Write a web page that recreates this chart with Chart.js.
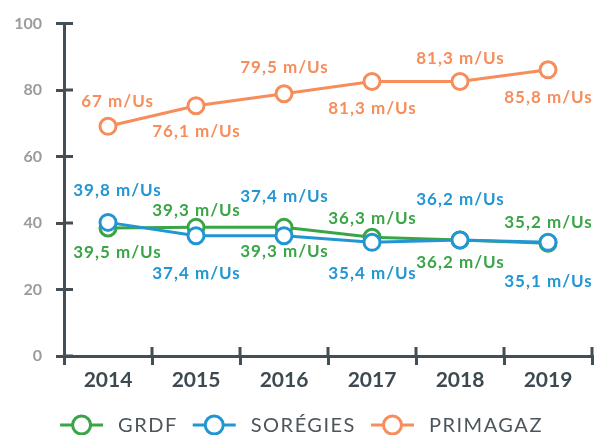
<!DOCTYPE html>
<html>
<head>
<meta charset="utf-8">
<style>
  html, body { margin: 0; padding: 0; background: #fff; }
  #wrap { width: 603px; height: 435px; }
</style>
</head>
<body>
<div id="wrap"><canvas id="chart"></canvas></div>
<script src="https://cdn.jsdelivr.net/npm/chart.js@4/dist/chart.umd.min.js"></script>
<script>
// data
var years = ['2014', '2015', '2016', '2017', '2018', '2019'];
var seriesNames = ['GRDF', 'SORÉGIES', 'PRIMAGAZ'];
var grdf = [38.5, 38.7, 38.7, 35.7, 34.9, 33.9];
var soregies = [40.2, 36.2, 36.2, 34.2, 34.9, 34.2];
var primagaz = [69.1, 75.3, 78.9, 82.6, 82.6, 86.1];
var grdfLabels = ['39,5 m/Us', '39,3 m/Us', '39,3 m/Us', '36,3 m/Us', '36,2 m/Us', '35,2 m/Us'];
var soregiesLabels = ['39,8 m/Us', '37,4 m/Us', '37,4 m/Us', '35,4 m/Us', '36,2 m/Us', '35,1 m/Us'];
var primagazLabels = ['67 m/Us', '76,1 m/Us', '79,5 m/Us', '81,3 m/Us', '81,3 m/Us', '85,8 m/Us'];
var yTicks = [0, 20, 40, 60, 80, 100];

// styling
var GREEN = '#3aa547', BLUE = '#2196d3', ORANGE = '#f68d5a', AXIS = '#434e55';
var FONT = 'Lato, "Open Sans", sans-serif';
// vertical offset of each value label from its point
var labelOffsets = [
  [24, -17, 24, -19, 23, -21],
  [-32, 38, -39, 31, -40, 39],
  [-25, 26, -26, 27, -23, 28]
];

function series(i, values, color, order, labels) {
  return {
    label: seriesNames[i],
    data: values,
    valueLabels: labels,
    borderColor: color,
    backgroundColor: '#fff',
    borderWidth: 3,
    pointRadius: 8,
    pointBorderWidth: 3,
    pointBackgroundColor: '#fff',
    pointBorderColor: color,
    tension: 0,
    order: order
  };
}

// inner halves of the tick marks, crossing the axes
var innerTicks = {
  id: 'innerTicks',
  beforeDatasetsDraw: function (chart) {
    var ctx = chart.ctx, a = chart.chartArea;
    var x = chart.scales.x, y = chart.scales.y;
    ctx.save();
    ctx.strokeStyle = AXIS;
    ctx.lineWidth = 3;
    ctx.beginPath();
    y.ticks.forEach(function (t) {
      var py = y.getPixelForValue(t.value);
      ctx.moveTo(a.left, py); ctx.lineTo(a.left + 9, py);
    });
    for (var i = 1; i <= years.length; i++) {
      var px = x.getPixelForValue(i - 0.5);
      ctx.moveTo(px, a.bottom); ctx.lineTo(px, a.bottom - 9);
    }
    ctx.stroke();
    ctx.restore();
  }
};

var valueLabels = {
  id: 'valueLabels',
  afterDatasetsDraw: function (chart) {
    var ctx = chart.ctx;
    ctx.save();
    ctx.font = 'bold 17px ' + FONT;
    ctx.letterSpacing = '1px';
    ctx.textAlign = 'center';
    ctx.textBaseline = 'middle';
    chart.data.datasets.forEach(function (ds, di) {
      var meta = chart.getDatasetMeta(di);
      ctx.fillStyle = ds.borderColor;
      meta.data.forEach(function (pt, i) {
        var dx = i === 0 ? 9 : 0;
        ctx.fillText(ds.valueLabels[i], pt.x + dx + 0.5, pt.y + labelOffsets[di][i]);
      });
    });
    ctx.restore();
  }
};

var lineLegend = {
  id: 'lineLegend',
  afterDraw: function (chart) {
    var ctx = chart.ctx;
    var ds = chart.data.datasets;
    var y = 425, markW = 43, gapText = 15, gapItem = 15;
    ctx.save();
    ctx.font = '20px ' + FONT;
    ctx.letterSpacing = '1.5px';
    var widths = ds.map(function (d) { return markW + gapText + ctx.measureText(d.label).width; });
    var total = widths.reduce(function (s, w) { return s + w; }, 0) + gapItem * (ds.length - 1);
    var x = (chart.width - total) / 2;
    ds.forEach(function (d, i) {
      ctx.strokeStyle = d.borderColor;
      ctx.lineWidth = 3;
      ctx.beginPath();
      ctx.moveTo(x, y); ctx.lineTo(x + markW, y);
      ctx.stroke();
      ctx.beginPath();
      ctx.arc(x + markW / 2, y, 9, 0, Math.PI * 2);
      ctx.fillStyle = '#fff';
      ctx.fill();
      ctx.stroke();
      ctx.fillStyle = '#4a555c';
      ctx.textBaseline = 'middle';
      ctx.textAlign = 'left';
      ctx.fillText(d.label, x + markW + gapText, y + 1);
      x += widths[i] + gapItem;
    });
    ctx.restore();
  }
};

var ctx = document.getElementById('chart').getContext('2d');
var chart = new Chart(ctx, {
  type: 'line',
  data: {
    labels: years,
    datasets: [
      series(0, grdf, GREEN, 2, grdfLabels),
      series(1, soregies, BLUE, 1, soregiesLabels),
      series(2, primagaz, ORANGE, 3, primagazLabels)
    ]
  },
  options: {
    responsive: true,
    maintainAspectRatio: false,
    animation: false,
    layout: { padding: { top: 22, right: 5, left: 0, bottom: 0 } },
    plugins: {
      legend: { display: false },
      tooltip: { enabled: false }
    },
    scales: {
      x: {
        offset: true,
        grid: { offset: true, drawOnChartArea: false, tickLength: 9, color: AXIS, lineWidth: 3 },
        border: { color: AXIS, width: 3 },
        ticks: { color: '#3e4a51', font: { family: FONT, size: 21, weight: 'bold' }, padding: 3 },
        afterFit: function (s) { s.height = 79; }
      },
      y: {
        min: 0,
        max: 100,
        afterBuildTicks: function (s) { s.ticks = yTicks.map(function (v) { return { value: v }; }); },
        grid: { drawOnChartArea: false, tickLength: 8, color: AXIS, lineWidth: 3 },
        border: { color: AXIS, width: 3 },
        ticks: { color: '#9b9b9b', font: { family: FONT, size: 16, weight: 'bold' }, padding: 14 },
        afterFit: function (s) { s.width = 64; }
      }
    }
  },
  plugins: [innerTicks, valueLabels, lineLegend]
});
</script>
</body>
</html>
